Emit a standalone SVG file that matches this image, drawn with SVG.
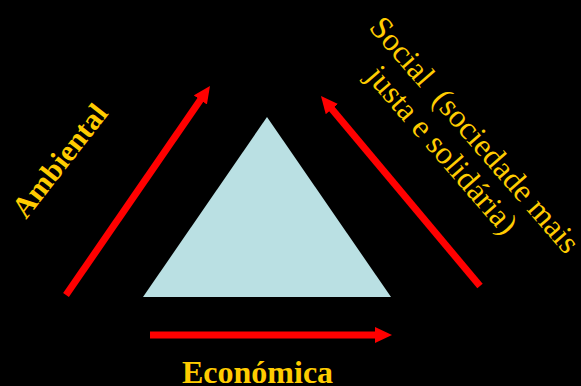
<svg xmlns="http://www.w3.org/2000/svg" width="581" height="386" viewBox="0 0 581 386">
<defs>
<style>
.lbl{font-family:"Liberation Serif","Times New Roman",serif;fill:#FFCC00;font-size:30px}
.b{font-weight:bold}
.s{font-size:32px}
.arr{stroke:#FF0000;stroke-width:7;fill:none}
</style>
<marker id="ah" markerUnits="userSpaceOnUse" markerWidth="18" markerHeight="18" refX="7" refY="8" orient="auto">
<path d="M0,0 L17,8 L0,16 z" fill="#FF0000"/>
</marker>
</defs>
<rect width="581" height="386" fill="#000"/>
<g id="triangle">
<polygon points="267,117 143,297 391,297" fill="#BAE0E3"/>
</g>
<g id="connectors">
<line class="arr" x1="66" y1="295" x2="204.3" y2="94.2" marker-end="url(#ah)"/>
<line class="arr" x1="480" y1="286" x2="327.4" y2="103.7" marker-end="url(#ah)"/>
<line class="arr" x1="150" y1="335" x2="382" y2="335" marker-end="url(#ah)"/>
</g>
<g id="ambiental">
<text class="lbl b" transform="translate(26,220) rotate(-52)">Ambiental</text>
</g>
<g id="social">
<text class="lbl s" transform="translate(368,28) rotate(49)" xml:space="preserve">Social  (sociedade mais</text>
<text class="lbl s" transform="translate(365,77) rotate(49)">justa e solidária)</text>
</g>
<g id="economica">
<text class="lbl b s" x="182" y="383">Económica</text>
</g>
</svg>
